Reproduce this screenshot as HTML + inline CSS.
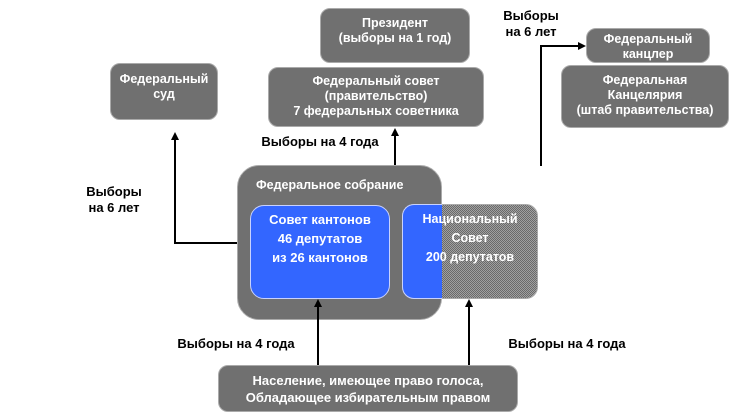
<!DOCTYPE html>
<html><head><meta charset="utf-8"><style>
body{margin:0;width:747px;height:417px;background:#fff;position:relative;overflow:hidden;font-family:"Liberation Sans",Arial,sans-serif;font-weight:bold;font-size:12.5px}
.b{position:absolute;box-sizing:border-box;border-radius:10px;color:#fff;text-align:center;line-height:15px;
background-color:#666;background-image:radial-gradient(circle at 1px 1px,#8c8c8c 0.6px,transparent 0.7px);background-size:2px 2px;border:1px solid #aaa}
.s{background:#3366ff;background-image:none;border-color:#c8d2ff}
.c{background-color:#6a6a6a;background-image:repeating-conic-gradient(#a0a0a0 0 25%,transparent 0 50%);background-size:2px 2px}
.t{position:absolute;color:#000;line-height:16px;text-align:center;font-size:13px}
.l{position:absolute;background:#000}
.a{position:absolute;width:0;height:0;border-left:4px solid transparent;border-right:4px solid transparent;border-bottom:8px solid #000}
</style></head><body>
<div class="b" style="left:320px;top:8px;width:150px;height:55px;padding-top:7px">Президент<br>(выборы на 1 год)</div>
<div class="b" style="left:110px;top:63px;width:108px;height:57px;padding-top:8px">Федеральный<br>суд</div>
<div class="b" style="left:268px;top:67px;width:216px;height:60px;padding-top:6px">Федеральный совет<br>(правительство)<br>7 федеральных советника</div>
<div class="b" style="left:586px;top:28px;width:124px;height:35px;padding-top:3px">Федеральный<br>канцлер</div>
<div class="b" style="left:561px;top:65px;width:168px;height:63px;padding-top:7px">Федеральная<br>Канцелярия<br>(штаб правительства)</div>
<div class="t" style="left:495px;top:8px;width:72px">Выборы<br>на 6 лет</div>
<div class="l" style="left:540px;top:45px;width:2px;height:121px"></div>
<div class="l" style="left:540px;top:45px;width:40px;height:2px"></div>
<div style="position:absolute;left:578px;top:42px;border-top:4px solid transparent;border-bottom:4px solid transparent;border-left:8px solid #000"></div>
<div class="t" style="left:250px;top:134px;width:140px">Выборы на 4 года</div>
<div class="l" style="left:394px;top:135px;width:2px;height:31px"></div>
<div class="a" style="left:391px;top:128px"></div>
<div class="t" style="left:78px;top:184px;width:72px">Выборы<br>на 6 лет</div>
<div class="l" style="left:174px;top:140px;width:2px;height:104px"></div>
<div class="l" style="left:174px;top:242px;width:64px;height:2px"></div>
<div class="a" style="left:171px;top:132px"></div>
<div class="b" style="left:237px;top:165px;width:205px;height:155px;border-radius:22px;padding-top:12px;text-align:left;padding-left:18px">Федеральное собрание</div>
<div class="b c" style="left:402px;top:204px;width:136px;height:95px;border-radius:12px"></div>
<div class="b s" style="left:402px;top:204px;width:40px;height:95px;border-radius:12px 0 0 12px;border-right:none"></div>
<div style="position:absolute;left:402px;top:210px;width:136px;text-align:center;color:#fff;line-height:19px">Национальный<br>Совет<br>200 депутатов</div>
<div class="b s" style="left:250px;top:205px;width:140px;height:94px;border-radius:14px;padding-top:4px;line-height:19px;font-size:13px">Совет кантонов<br>46 депутатов<br>из 26 кантонов</div>
<div class="t" style="left:168px;top:336px;width:136px">Выборы на 4 года</div>
<div class="t" style="left:498px;top:336px;width:138px">Выборы на 4 года</div>
<div class="l" style="left:317px;top:306px;width:2px;height:60px"></div>
<div class="a" style="left:314px;top:299px"></div>
<div class="l" style="left:468px;top:306px;width:2px;height:60px"></div>
<div class="a" style="left:465px;top:299px"></div>
<div class="b" style="left:218px;top:365px;width:300px;height:47px;padding-top:6px;line-height:17px;font-size:13px">Население, имеющее право голоса,<br>Обладающее избирательным правом</div>
</body></html>
